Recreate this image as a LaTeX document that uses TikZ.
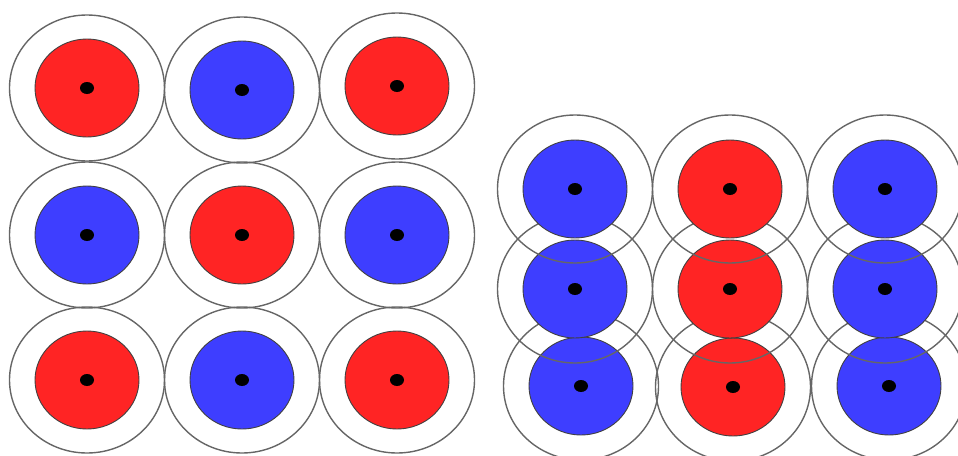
\documentclass[tikz,border=0pt]{standalone}
\usepackage{xcolor}
\usepackage{tikz}
\usetikzlibrary{positioning}

\definecolor{cellred}{RGB}{255,36,36}
\definecolor{cellblue}{RGB}{62,62,255}

\begin{document}
\begin{tikzpicture}[
  x=1pt, y=-1pt,
  ring/.style={draw=black!60, line width=1.4pt},
  core/.style={draw=black!75, line width=0.9pt},
  centre/.style={fill=black}
]
\useasboundingbox (0,0) rectangle (958,455);

% square packing (left), bottom row first
\foreach \x/\y/\c in {87/380/cellred, 242/380/cellblue, 397/380/cellred,
                      87/235/cellblue, 242/235/cellred, 397/235/cellblue,
                      87/88/cellred, 242/90/cellblue, 397/86/cellred} {
  \draw[ring] (\x,\y) ellipse [x radius=77.5, y radius=73];
  \filldraw[core, fill=\c] (\x,\y) ellipse [x radius=52, y radius=49];
  \fill[centre] (\x,\y) ellipse [x radius=7, y radius=6];
}

% compressed packing (right), bottom row first
\foreach \x/\y/\c in {581/386/cellblue, 733/387/cellred, 889/386/cellblue,
                      575/289/cellblue, 730/289/cellred, 885/289/cellblue,
                      575/189/cellblue, 730/189/cellred, 885/189/cellblue} {
  \draw[ring] (\x,\y) ellipse [x radius=77.5, y radius=74];
  \filldraw[core, fill=\c] (\x,\y) ellipse [x radius=52, y radius=49];
  \fill[centre] (\x,\y) ellipse [x radius=7, y radius=6];
}
\end{tikzpicture}
\end{document}
